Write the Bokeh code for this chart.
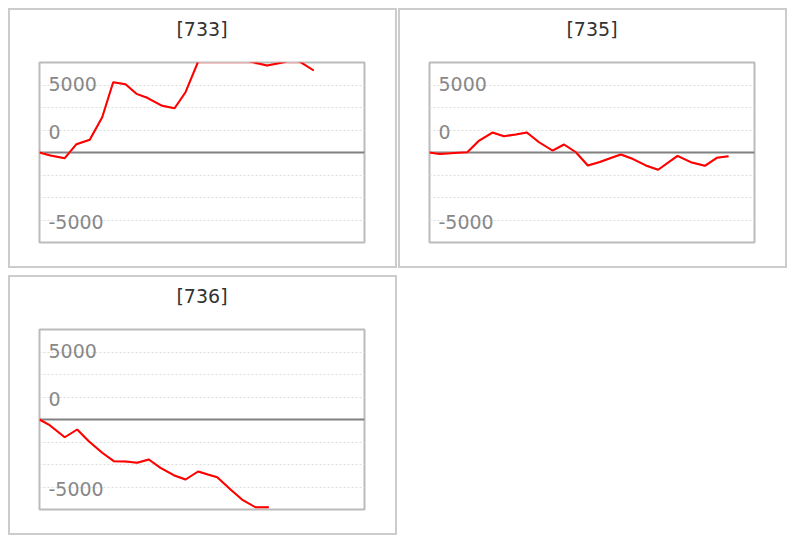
import numpy as np
from bokeh.plotting import figure
from bokeh.models import Range1d, Span, FixedTicker, Title
from bokeh.layouts import column, row
from bokeh.core.properties import value
from bokeh.embed import file_html
from bokeh.resources import INLINE

# ---- data ----
names = ["[733]", "[735]", "[736]"]

x733 = [0, 0.9, 2.07, 3.03, 4.12, 5.14, 6.04, 7.05, 7.95, 8.83, 10.06, 11.07, 11.97,
        13.0, 14.0, 15.0, 16.0, 17.3, 18.66, 20.1, 20.7, 21.4, 22.48]
y733 = [0, -330, -630, 920, 1410, 3920, 7810, 7590, 6520, 6080, 5190, 4920, 6700,
        10100, 10600, 10900, 10500, 10100, 9670, 10050, 10400, 10050, 9110]

x735 = [0, 0.84, 2.0, 3.1, 4.07, 5.16, 6.11, 7.07, 7.98, 8.98, 10.08, 11.03, 12.0,
        12.98, 13.96, 14.86, 15.68, 16.64, 17.73, 18.74, 20.33, 21.42, 22.57, 23.55, 24.51]
y735 = [0, -170, -50, 30, 1330, 2220, 1810, 2000, 2220, 1140, 220, 890, 30,
        -1440, -1060, -610, -220, -700, -1440, -1920, -370, -1080, -1480, -590, -410]

x736 = [0, 0.76, 2.07, 3.09, 4.04, 5.14, 6.09, 7.05, 8.01, 8.96, 9.92, 11.0, 11.97,
        13.0, 13.8, 14.57, 15.66, 16.6, 17.7, 18.8]
y736 = [0, -560, -1970, -1110, -2410, -3700, -4630, -4670, -4810, -4440, -5370, -6190,
        -6670, -5780, -6110, -6410, -7780, -8890, -9750, -9750]

y_min, y_max = -10000, 10000
x_min, x_max = 0, 26.64
grid_ticks = [-7500, -5000, -2500, 2500, 5000, 7500]
tick_labels = ["5000", "0", "-5000"]
tick_label_pos = [7500, 2500, -7500]
tick_label_nudge = [-1, 1.5, 1.5]   # small screen-pixel offsets (style)

FONT = "DejaVu Sans"


def make_panel(name, xs, ys):
    p = figure(width=389, height=260, output_backend="svg", toolbar_location=None,
               x_range=Range1d(x_min, x_max), y_range=Range1d(y_min, y_max),
               min_border_left=29, min_border_right=35, min_border_top=52,
               min_border_bottom=28,
               styles={"border": "2px solid #cccccc", "box-sizing": "border-box"})
    p.axis.visible = False
    p.xgrid.visible = False
    p.ygrid.ticker = FixedTicker(ticks=grid_ticks)
    p.ygrid.grid_line_color = "#dddddd"
    p.ygrid.grid_line_dash = "2 2"
    p.ygrid.grid_line_width = 1
    p.outline_line_color = "#bbbbbb"
    p.outline_line_width = 2
    p.background_fill_color = "white"
    p.border_fill_color = "white"

    # spacer between the frame and the title (nearest to the frame)
    spacer = Title(text=" ", text_font=FONT, text_font_size="10px", standoff=10)
    p.add_layout(spacer, "above")
    head = Title(text=name, align="center", vertical_align="bottom", standoff=0,
                 text_font=FONT, text_font_size="19px", text_font_style="normal",
                 text_color="#333333")
    p.add_layout(head, "above")

    zero = Span(location=0, dimension="width", line_color="#808080",
                line_width=2, level="underlay")
    p.add_layout(zero)

    p.text(x=[x_min] * len(tick_labels), y=tick_label_pos, text=tick_labels,
           x_offset=9, y_offset=tick_label_nudge, text_align="left",
           text_baseline="middle", text_font=value(FONT), text_font_size="19px",
           text_color="#888888")

    clipped = np.clip(np.array(ys, dtype=float), y_min, y_max)
    p.line(xs, clipped, line_color="#ffb3b3", line_width=2)
    p.line(xs, ys, line_color="#ff0000", line_width=2)
    return p


p1 = make_panel(names[0], x733, y733)
p2 = make_panel(names[1], x735, y735)
p3 = make_panel(names[2], x736, y736)

layout = column(row(p1, p2, spacing=1), p3, spacing=7,
                styles={"margin-left": "8px", "margin-top": "8px"})

open("out.html", "w").write(file_html(layout, INLINE))
